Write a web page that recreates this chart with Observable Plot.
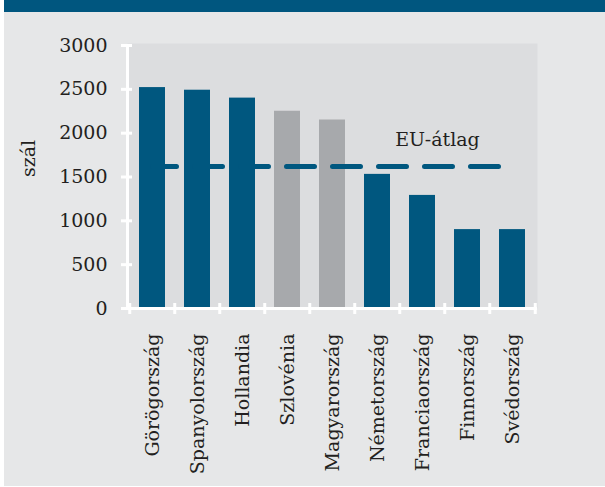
<!DOCTYPE html>
<html><head><meta charset="utf-8">
<script src="https://cdn.jsdelivr.net/npm/d3@7"></script>
<script src="https://cdn.jsdelivr.net/npm/@observablehq/plot@0.6"></script>
<style>
body{margin:0;background:#fff;}
#wrap{position:relative;width:605px;height:487px;overflow:hidden;}
#panel{position:absolute;left:4px;top:0;width:601px;height:486px;background:#e6e7e8;}
#band{position:absolute;left:4px;top:0;width:601px;height:12px;background:#00567f;}
#chart{position:absolute;left:0;top:0;}
</style></head><body>
<div id="wrap"><div id="panel"></div><div id="band"></div><div id="chart"></div></div>
<script>
const countries = ["Görögország","Spanyolország","Hollandia","Szlovénia","Magyarország","Németország","Franciaország","Finnország","Svédország"];
const values = [2520, 2490, 2400, 2250, 2150, 1530, 1290, 900, 900];
const groups = ["egyéb","egyéb","egyéb","kiemelt","kiemelt","egyéb","egyéb","egyéb","egyéb"];
const yTicks = [0, 500, 1000, 1500, 2000, 2500, 3000];
const euAverage = 1620;
const euLabel = "EU-átlag";
const yLabel = "szál";

const data = countries.map((c, i) => ({country: c, value: values[i], group: groups[i]}));

const W = 605, H = 487, mL = 127, mR = 68, mT = 45, mB = 179;
const pIn = 0.43, pOut = 0.22;
const step = (W - mL - mR) / (countries.length - pIn + 2 * pOut);
const blue = "#00577f", grey = "#a7a9ac", white = "#ffffff";

const chart = Plot.plot({
  width: W, height: H,
  marginLeft: mL, marginRight: mR, marginTop: mT, marginBottom: mB,
  style: {background: "transparent", fontFamily: "'DejaVu Serif', serif", fontSize: "19px", color: "#231f20"},
  x: {domain: countries, paddingInner: pIn, paddingOuter: pOut},
  y: {domain: [0, 3000]},
  color: {domain: ["egyéb", "kiemelt"], range: [blue, grey]},
  marks: [
    Plot.frame({fill: "#dcdddf", stroke: null, insetTop: -2}),
    Plot.barY(data, {x: "country", y: "value", fill: "group"}),
    Plot.line([countries[0], countries[countries.length - 1]], {
      x: d => d, y: () => euAverage,
      stroke: blue, strokeWidth: 5, strokeDasharray: "28,18", strokeDashoffset: 4
    }),
    Plot.text([euLabel], {x: () => countries[6], y: () => euAverage, dx: 15, dy: -27, fill: "#231f20"}),
    Plot.ruleY([0], {stroke: white, strokeWidth: 3}),
    Plot.frame({anchor: "left", stroke: white, strokeWidth: 3}),
    Plot.axisY(yTicks, {tickSize: 11, dx: 5, fill: "none", stroke: white, strokeWidth: 3, label: null}),
    Plot.axisY(yTicks, {tickSize: 0, tickPadding: 20, tickFormat: d3.format("d"), label: null}),
    Plot.axisX(countries, {tickSize: 11, dy: -5, dx: -step / 2, fill: "none", stroke: white, strokeWidth: 3, label: null}),
    Plot.axisX([countries[countries.length - 1]], {tickSize: 11, dy: -5, dx: step / 2, fill: "none", stroke: white, strokeWidth: 3, label: null}),
    Plot.axisX(countries, {tickSize: 0, tickPadding: 25, tickRotate: -90, label: null}),
    Plot.text([yLabel], {frameAnchor: "left", dx: -99, rotate: -90, fill: "#231f20"})
  ]
});
document.getElementById("chart").appendChild(chart);
</script>
</body></html>
